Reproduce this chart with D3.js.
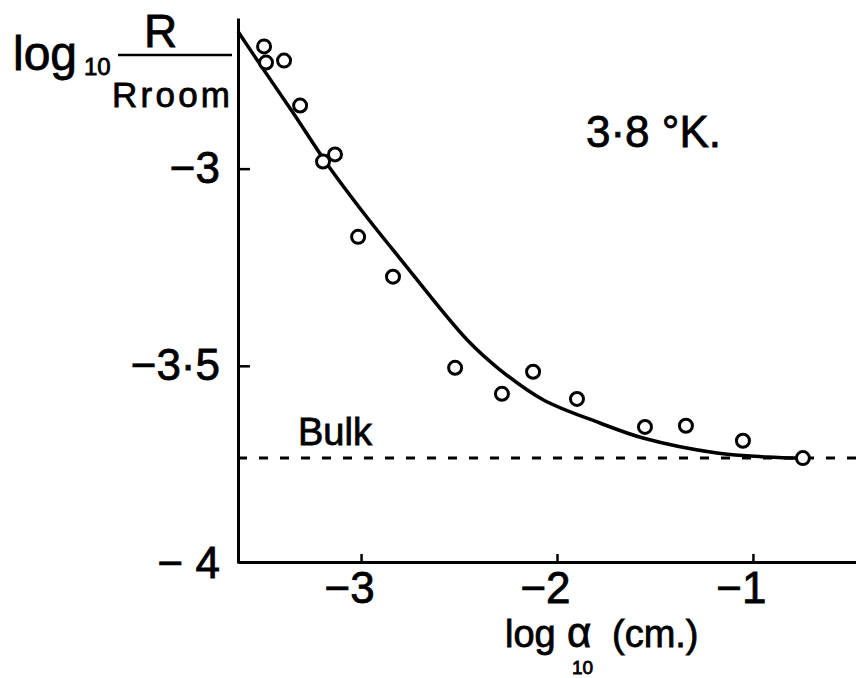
<!doctype html>
<html lang="en">

<head>
	<meta charset="utf-8">
	<script src="https://d3js.org/d3.v7.min.js"></script>
	<title>log R / R room vs log a</title>
	<style>
		body { margin: 0; background: #fff; }
		text { font-family: "Liberation Sans", Arial, sans-serif; fill: #000; stroke: #000; stroke-width: 0.8px; }
	</style>
</head>

<body>
	<svg id="svg1" width=856 height=678></svg>

	<script>
		// measured points (log10 a, log10 R/Rroom)
		let pointX = [-3.495, -3.485, -3.393, -3.311, -3.194, -3.133, -3.015, -2.837, -2.520, -2.281, -2.122, -1.898, -1.551, -1.342, -1.051, -0.745];
		let pointY = [-2.690, -2.731, -2.726, -2.840, -2.982, -2.964, -3.173, -3.274, -3.505, -3.571, -3.515, -3.584, -3.655, -3.652, -3.690, -3.734];

		// hand drawn curve through the points
		let curveX = [-3.628, -3.500, -3.347, -3.168, -2.969, -2.801, -2.459, -2.291, -2.071, -1.781, -1.561, -1.184, -0.929, -0.745];
		let curveY = [-2.652, -2.747, -2.858, -2.992, -3.124, -3.228, -3.434, -3.510, -3.586, -3.645, -3.683, -3.721, -3.731, -3.734];

		let bulkValue = -3.734;

		let xTicks = [-3, -2, -1];
		let xTickLabels = ["\u22123", "\u22122", "\u22121"];
		let yTicks = [-4, -3.5, -3];
		let yTickLabels = ["\u2212 4", "\u22123\u00b75", "\u22123"];

		let svg;
		let xScale, yScale;
		let width = 856, height = 678;

		function initialize() {
			svg = d3.select("#svg1")
				.attr("width", width)
				.attr("height", height);

			xScale = d3.scaleLinear()
				.domain([-3.628, -0.474])
				.range([238, 856]);

			yScale = d3.scaleLinear()
				.domain([-4, -2.618])
				.range([563, 18]);
		}

		function update() {
			// y axis, ticks point into the plot
			let yAxis = svg.append("g")
				.attr("transform", "translate(238,0)")
				.call(d3.axisLeft(yScale)
					.tickValues(yTicks)
					.tickFormat((d, i) => yTickLabels[i])
					.tickSize(-12)
					.tickSizeOuter(0)
					.tickPadding(18));
			yAxis.select(".domain").attr("stroke-width", 3);
			yAxis.selectAll(".tick line").attr("stroke-width", 2.5);
			yAxis.selectAll(".tick text")
				.attr("font-size", "44px")
				.attr("font-family", "Liberation Sans, Arial, sans-serif");
			// no tick mark drawn at -4 (it is the corner)
			yAxis.selectAll(".tick").filter(d => d === -4).select("line").remove();

			// x axis
			let xAxis = svg.append("g")
				.attr("transform", "translate(0,562)")
				.call(d3.axisBottom(xScale)
					.tickValues(xTicks)
					.tickFormat((d, i) => xTickLabels[i])
					.tickSize(-8)
					.tickSizeOuter(0)
					.tickPadding(10));
			xAxis.select(".domain").attr("stroke-width", 3);
			xAxis.selectAll(".tick line").attr("stroke-width", 2.5);
			xAxis.selectAll(".tick text")
				.attr("font-size", "44px")
				.attr("dx", -12)
				.attr("font-family", "Liberation Sans, Arial, sans-serif");

			// bulk dashed line
			svg.append("line")
				.attr("x1", xScale.range()[0])
				.attr("x2", xScale.range()[1])
				.attr("y1", yScale(bulkValue))
				.attr("y2", yScale(bulkValue))
				.attr("stroke", "#000")
				.attr("stroke-width", 3)
				.attr("stroke-dasharray", "9,12");

			svg.append("text")
				.attr("x", 298)
				.attr("y", 445)
				.attr("font-size", "38px")
				.text("Bulk");

			// fitted curve
			let curveData = curveX.map((d, i) => [d, curveY[i]]);
			let line = d3.line()
				.x(d => xScale(d[0]))
				.y(d => yScale(d[1]))
				.curve(d3.curveCatmullRom);

			svg.append("path")
				.datum(curveData)
				.attr("d", line)
				.attr("fill", "none")
				.attr("stroke", "#000")
				.attr("stroke-width", 3.5);

			// points
			let pts = pointX.map((d, i) => [d, pointY[i]]);
			svg.selectAll("circle")
				.data(pts)
				.join("circle")
				.attr("cx", d => xScale(d[0]))
				.attr("cy", d => yScale(d[1]))
				.attr("r", 6.5)
				.attr("fill", "#fff")
				.attr("stroke", "#000")
				.attr("stroke-width", 3);

			// temperature
			svg.append("text")
				.attr("x", 586)
				.attr("y", 147)
				.attr("font-size", "44px")
				.text("3\u00b78 \u00b0K.");

			// y label: log10 R / Rroom
			svg.append("text")
				.attr("x", 13)
				.attr("y", 70)
				.attr("font-size", "48px")
				.text("log");
			svg.append("text")
				.attr("x", 84)
				.attr("y", 75)
				.attr("font-size", "24px")
				.text("10");
			svg.append("line")
				.attr("x1", 118).attr("x2", 232)
				.attr("y1", 55).attr("y2", 55)
				.attr("stroke", "#000")
				.attr("stroke-width", 2.5);
			svg.append("text")
				.attr("x", 144)
				.attr("y", 47)
				.attr("font-size", "46px")
				.text("R");
			svg.append("text")
				.attr("x", 112)
				.attr("y", 107)
				.attr("font-size", "35px")
				.attr("textLength", 118)
				.text("Rroom");

			// x label: log10 a (cm.)
			svg.append("text")
				.attr("x", 505)
				.attr("y", 647)
				.attr("font-size", "38px")
				.text("log");
			svg.append("text")
				.attr("x", 567)
				.attr("y", 647)
				.attr("font-size", "42px")
				.text("\u03b1");
			svg.append("text")
				.attr("x", 572)
				.attr("y", 674)
				.attr("font-size", "19px")
				.text("10");
			svg.append("text")
				.attr("x", 612)
				.attr("y", 647)
				.attr("font-size", "38px")
				.text("(cm.)");
		}

		initialize();
		update();
	</script>
</body>

</html>
